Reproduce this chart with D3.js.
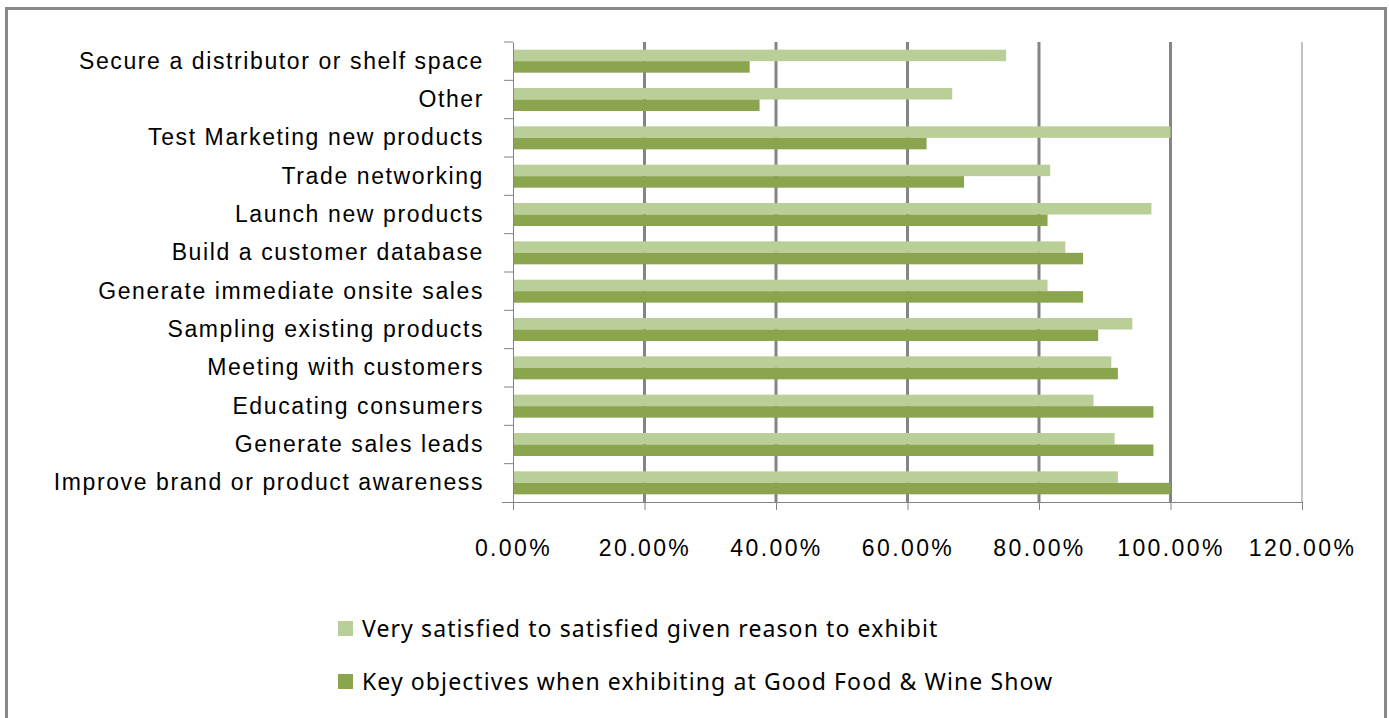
<!DOCTYPE html>
<html lang="en">
<head>
    <meta charset="UTF-8">
    <title>Reasons to exhibit</title>
    <script src="https://d3js.org/d3.v7.min.js"></script>
    <style>
        html, body { margin: 0; padding: 0; background: #fff; }
        body { font-family: "Noto Sans", Arial, sans-serif; }
        .lbl { font-size: 23px; fill: #000; }
        .cat { letter-spacing: 1.6px; }
        .num { letter-spacing: 2.4px; }
        .leg { letter-spacing: 1.1px; }
    </style>
</head>
<body>
    <svg width="1389" height="718"></svg>
    <script>
        const categories = [
            "Secure a distributor or shelf space",
            "Other",
            "Test Marketing new products",
            "Trade networking",
            "Launch new products",
            "Build a customer database",
            "Generate immediate onsite sales",
            "Sampling existing products",
            "Meeting with customers",
            "Educating consumers",
            "Generate sales leads",
            "Improve brand or product awareness"
        ];
        const satisfied = [75.0, 66.8, 100.0, 81.7, 97.1, 84.0, 81.3, 94.2, 91.0, 88.3, 91.5, 92.0];
        const objectives = [36.0, 37.5, 62.9, 68.6, 81.3, 86.7, 86.7, 89.0, 92.0, 97.4, 97.4, 100.0];
        const xTicks = [0, 20, 40, 60, 80, 100, 120];
        const seriesNames = [
            "Very satisfied to satisfied given reason to exhibit",
            "Key objectives when exhibiting at Good Food & Wine Show"
        ];
        const colors = ["#BACE98", "#8AA54E"];

        const svg = d3.select("svg");

        // outer chart frame
        svg.append("rect")
            .attr("x", 6.5).attr("y", 8.5)
            .attr("width", 1379).attr("height", 720)
            .attr("fill", "none").attr("stroke", "#888").attr("stroke-width", 3);

        const x = d3.scaleLinear().domain([0, 120]).range([513, 1302]);
        const y = d3.scaleBand().domain(categories).range([42, 502])
            .paddingInner(0.4).paddingOuter(0.2);
        const sub = d3.scaleBand().domain([0, 1]).range([0, y.bandwidth()]);

        // gridlines
        svg.append("g").selectAll("line")
            .data(xTicks.slice(1))
            .enter().append("line")
            .attr("x1", d => x(d)).attr("x2", d => x(d))
            .attr("y1", 42).attr("y2", 502)
            .attr("stroke", "#848484")
            .attr("stroke-width", d => d === 120 ? 1 : 3);

        // bars
        const rows = categories.map((c, i) => ({ c, vals: [satisfied[i], objectives[i]] }));
        const grp = svg.append("g").selectAll("g")
            .data(rows)
            .enter().append("g")
            .attr("transform", d => `translate(0,${y(d.c)})`);
        grp.selectAll("rect")
            .data(d => d.vals)
            .enter().append("rect")
            .attr("x", x(0))
            .attr("y", (d, i) => sub(i))
            .attr("width", d => x(d) - x(0))
            .attr("height", sub.bandwidth())
            .attr("fill", (d, i) => colors[i]);

        // x axis
        const xAxis = svg.append("g")
            .attr("transform", "translate(0,502)")
            .call(d3.axisBottom(x).tickValues(xTicks).tickSize(8).tickPadding(30)
                .tickFormat(d => d.toFixed(2) + "%"));
        xAxis.select(".domain").attr("stroke", "#848484").attr("d", "M502,0.5H1302");
        xAxis.selectAll(".tick line").attr("stroke", "#848484");
        xAxis.selectAll(".tick text").attr("class", "lbl num").attr("font-family", null).attr("font-size", null);

        // y axis, ticks sit on the category boundaries
        const yAxis = svg.append("g").attr("transform", "translate(513,0)")
            .call(d3.axisLeft(y).tickSize(0).tickPadding(29));
        yAxis.select(".domain").attr("stroke", "#848484");
        yAxis.selectAll(".tick text").attr("class", "lbl cat").attr("font-family", null).attr("font-size", null);
        const bounds = categories.map(c => y(c) - y.step() * y.paddingOuter());
        yAxis.selectAll(".bound")
            .data(bounds)
            .enter().append("line")
            .attr("x1", -9).attr("x2", 0)
            .attr("y1", d => d).attr("y2", d => d)
            .attr("stroke", "#848484");

        // legend
        const leg = svg.append("g").selectAll("g")
            .data(seriesNames)
            .enter().append("g")
            .attr("transform", (d, i) => `translate(338,${629 + i * 53})`);
        leg.append("rect")
            .attr("x", 0).attr("y", -8).attr("width", 15).attr("height", 15)
            .attr("fill", (d, i) => colors[i]);
        leg.append("text")
            .attr("class", "lbl leg")
            .attr("x", 24).attr("dy", "0.35em")
            .text(d => d);
    </script>
</body>
</html>
